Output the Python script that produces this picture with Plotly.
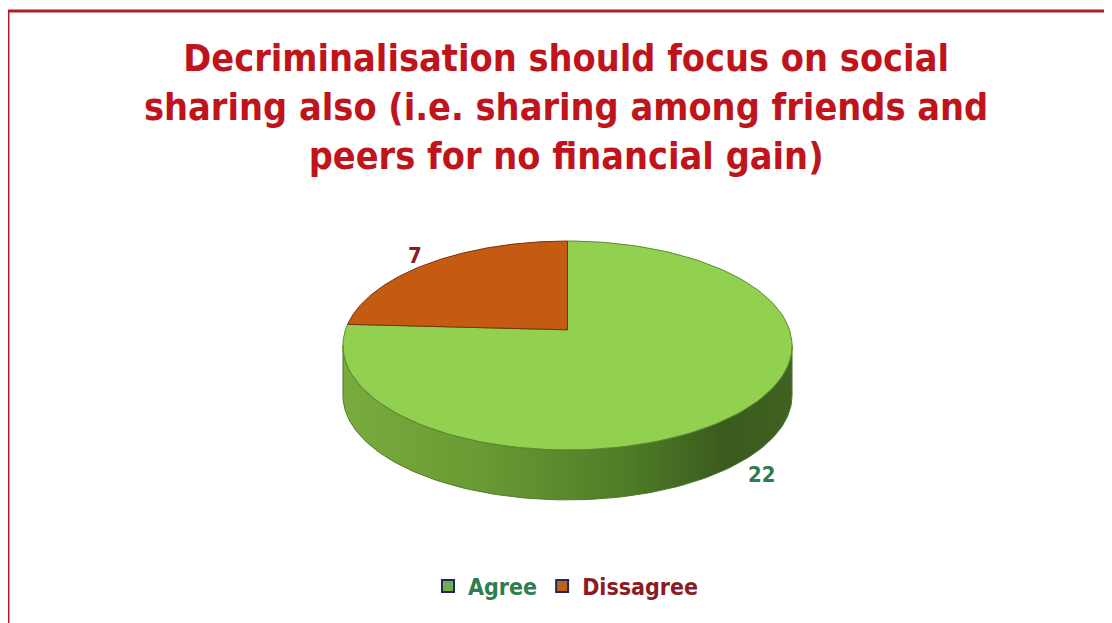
import numpy as np
import plotly.graph_objects as go

labels = ["Agree", "Dissagree"]
values = [22, 7]
top_colors = ["#92d050", "#c55a11"]
edge_colors = ["#5b8a2e", "#7a2e0a"]
label_colors = ["#2e7d4e", "#8b1c24"]
legend_fill = ["#6fae4a", "#c0601a"]

title_lines = [
    "Decriminalisation should focus on social",
    "sharing also (i.e. sharing among friends and",
    "peers for no financial gain)",
]

W, H = 1112, 623
OFF = 8                # page body margin, axes use screen pixels
CX, Y0 = 567.5, 329.8  # screen position of the pie centre
A, B = 222, 102.1      # projected radii
PERSP = 0.15           # perspective strength
DEPTH = 50             # thickness of the disc
FONT = "DejaVu Sans Condensed"


def project(theta_deg, r=1.0, dy=0.0):
    t = np.radians(theta_deg)
    u, v = r * np.cos(t), r * np.sin(t)
    d = 1 + PERSP * v
    return CX + A * u / d, Y0 - B * v / d + dy


def arc(t0, t1, dy=0.0, n=140):
    return project(np.linspace(t0, t1, n), dy=dy)


fig = go.Figure()

# side wall (visible front part of the disc)
edge = np.degrees(np.arcsin(PERSP))
xs_top, ys_top = arc(180 + edge, 360 - edge)
xs_bot, ys_bot = arc(360 - edge, 180 + edge, dy=DEPTH)
fig.add_trace(go.Scatter(
    x=np.concatenate([xs_top, xs_bot, xs_top[:1]]),
    y=np.concatenate([ys_top, ys_bot, ys_top[:1]]),
    mode="lines", fill="toself",
    fillgradient=dict(type="horizontal", colorscale=[
        [0, "#7aab3e"], [0.3, "#6a9b34"], [0.65, "#4d7a27"], [0.85, "#3a5a1e"], [1, "#3f6322"]]),
    line=dict(color="#4f7a2a", width=1),
    showlegend=False, hoverinfo="skip",
))

# top face slices, clockwise from 12 o'clock
total = sum(values)
start = 90.0
mids = []
for lab, v, col, ecol in zip(labels, values, top_colors, edge_colors):
    sweep = v / total * 360
    ax, ay = arc(start, start - sweep)
    px = np.concatenate([[CX], ax, [CX]])
    py = np.concatenate([[Y0], ay, [Y0]])
    fig.add_trace(go.Scatter(
        x=px, y=py, mode="lines", fill="toself", fillcolor=col,
        line=dict(color=ecol, width=1), showlegend=False, name=lab,
        hovertemplate=f"{lab}: {v}<extra></extra>",
    ))
    mids.append(start - sweep / 2)
    start -= sweep

# data labels
for v, m, c in zip(values, mids, label_colors):
    lx, ly = project(m, r=1.12)
    if np.sin(np.radians(m)) < 0:
        ly += DEPTH
    fig.add_annotation(x=lx, y=ly, text=f"<b>{v}</b>", showarrow=False,
                       font=dict(family=FONT, size=22, color=c))

# legend entries
for lab, fc, c in zip(labels, legend_fill, label_colors):
    fig.add_trace(go.Scatter(
        x=[None], y=[None], mode="markers",
        marker=dict(symbol="square", size=12, color=fc, line=dict(color="#1c2a5e", width=3)),
        name=f"<span style='color:{c}'><b>{lab}</b></span>",
    ))

# title
fig.add_annotation(
    xref="paper", yref="paper", x=(566 - OFF) / W, y=1 - (107 - OFF) / H,
    xanchor="center", yanchor="middle", showarrow=False,
    text="<b>" + "<br>".join(title_lines) + "</b>",
    font=dict(family=FONT, size=37.5, color="#c0141c"),
)

# slide border
fig.add_shape(type="rect", xref="paper", yref="paper",
              x0=0, x1=1.02, y0=-0.02, y1=1 - (11 - OFF) / H,
              line=dict(color="#b01c24", width=3))

fig.update_layout(
    width=W, height=H,
    margin=dict(l=0, r=0, t=0, b=0),
    paper_bgcolor="white", plot_bgcolor="white",
    xaxis=dict(range=[OFF, W + OFF], visible=False, fixedrange=True),
    yaxis=dict(range=[H + OFF, OFF], visible=False, fixedrange=True),
    legend=dict(orientation="h", x=(566 - OFF) / W, xanchor="center",
                y=1 - (586 - OFF) / H, yanchor="middle",
                font=dict(family=FONT, size=23), itemsizing="constant",
                bgcolor="rgba(0,0,0,0)"),
)

fig.write_html("out.html")
